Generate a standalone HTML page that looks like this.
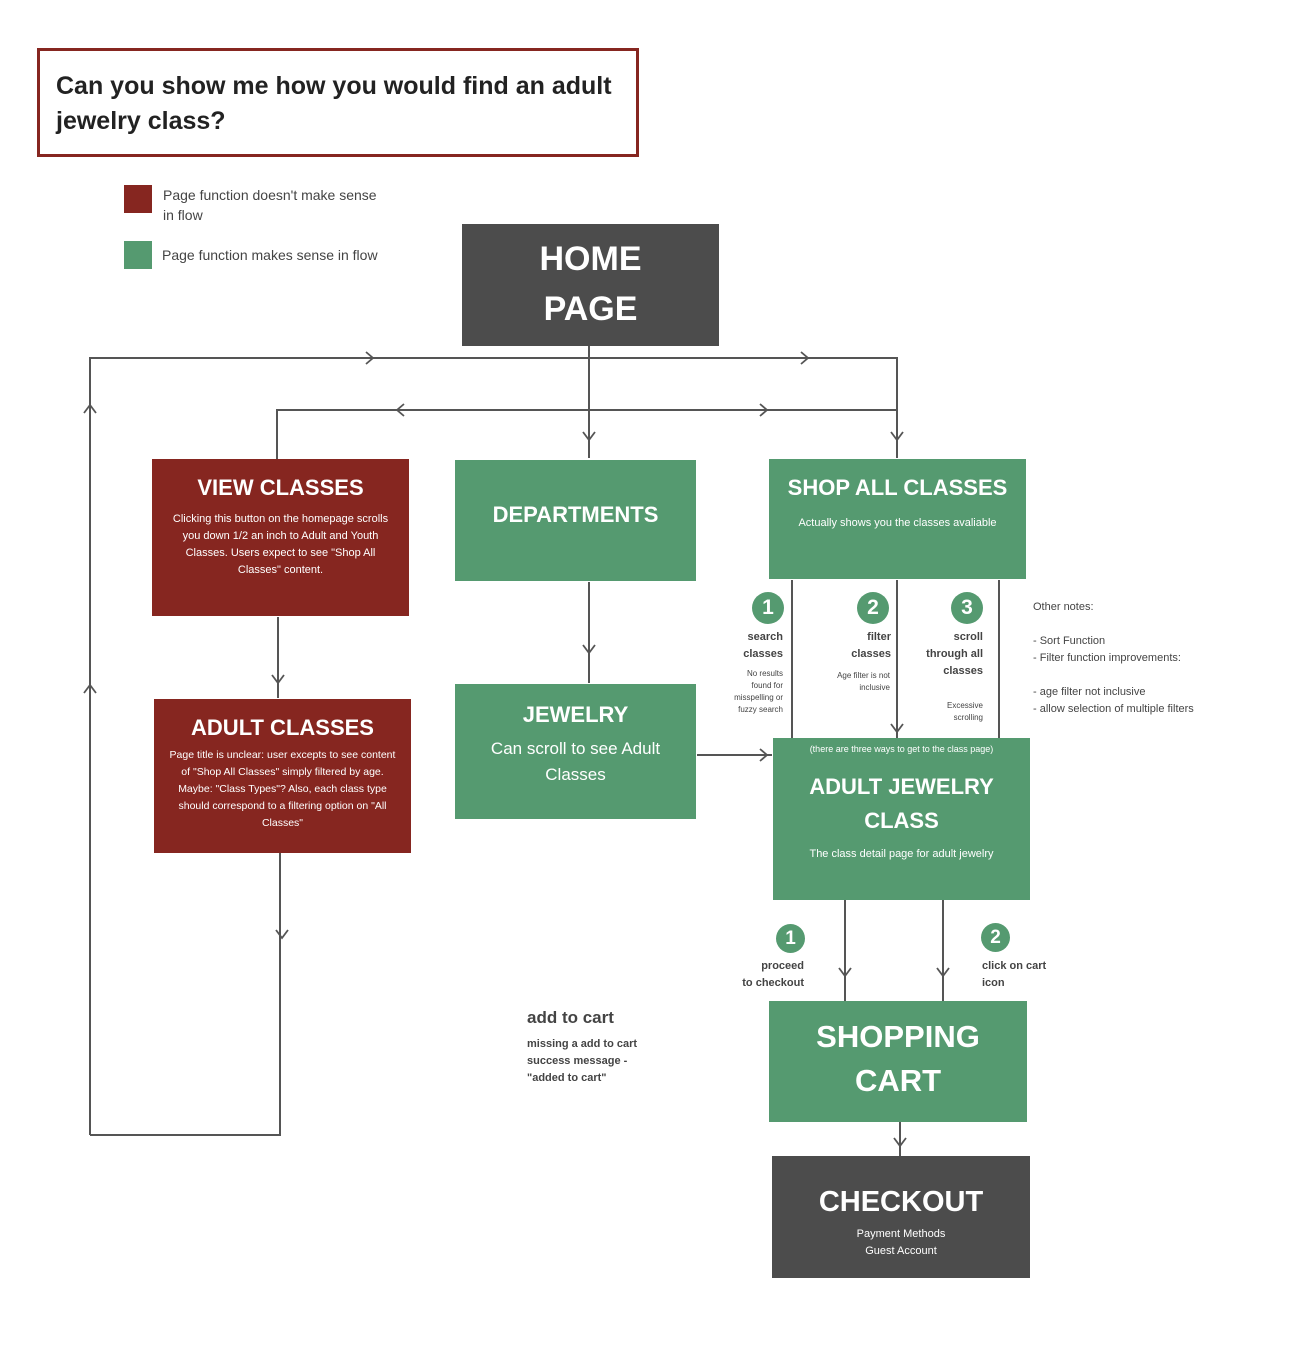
<!DOCTYPE html>
<html><head><meta charset="utf-8"><style>
html,body{margin:0;padding:0;background:#fff;}
body{width:1296px;height:1368px;position:relative;overflow:hidden;font-family:"Liberation Sans",sans-serif;}
.b{position:absolute;color:#fff;text-align:center;box-sizing:border-box;}
.r{background:#862620;}
.g{background:#559a70;}
.d{background:#4c4c4c;}
.t{font-weight:bold;}
.s{font-size:11px;line-height:17px;}
.a{position:absolute;color:#444;font-size:11px;line-height:17px;}
.n{position:absolute;width:32px;height:32px;border-radius:50%;background:#559a70;color:#fff;font-weight:bold;font-size:21px;line-height:32px;text-align:center;}
</style></head><body>
<svg width="1296" height="1368" style="position:absolute;left:0;top:0">
<g stroke="#555" stroke-width="2" fill="none">
<path d="M589 346V458"/>
<path d="M90 1135V358H897V458"/>
<path d="M277 459V410H897"/>
<path d="M280 853V1135H90"/>
<path d="M278 617V698"/>
<path d="M589 582V683"/>
<path d="M697 755H772"/>
<path d="M792 580V738M897 580V738M999 580V738"/>
<path d="M845 900V1001M943 900V1001"/>
<path d="M900 1122V1156"/>
<g stroke-width="1.8">
<path d="M583 432l6 8 6-8"/><path d="M891 432l6 8 6-8"/>
<path d="M366 352l7 6-7 6"/><path d="M801 352l7 6-7 6"/>
<path d="M404 404l-7 6 7 6"/><path d="M760 404l7 6-7 6"/>
<path d="M84 413l6-8 6 8"/><path d="M84 693l6-8 6 8"/>
<path d="M276 930l6 8 6-8"/><path d="M272 675l6 8 6-8"/>
<path d="M583 645l6 8 6-8"/><path d="M760 749l7 6-7 6"/>
<path d="M891 724l6 8 6-8"/>
<path d="M839 968l6 8 6-8"/><path d="M937 968l6 8 6-8"/>
<path d="M894 1138l6 8 6-8"/>
</g></g></svg>

<div style="position:absolute;left:37px;top:48px;width:602px;height:109px;border:3px solid #862620;box-sizing:border-box;padding:18px 0 0 16px;font-weight:bold;font-size:25px;line-height:35px;color:#222;">Can you show me how you would find an adult jewelry class?</div>

<div style="position:absolute;left:124px;top:185px;width:28px;height:28px;background:#862620"></div>
<div class="a" style="left:163px;top:185px;font-size:14px;line-height:20px">Page function doesn't make sense<br>in flow</div>
<div style="position:absolute;left:124px;top:241px;width:28px;height:28px;background:#559a70"></div>
<div class="a" style="left:162px;top:245px;font-size:14px;line-height:20px">Page function makes sense in flow</div>

<div class="b d t" style="left:462px;top:224px;width:257px;height:122px;font-size:34px;line-height:50px;padding-top:10px">HOME<br>PAGE</div>

<div class="b r" style="left:152px;top:459px;width:257px;height:157px;padding:14px 14px 0"><div class="t" style="font-size:22px;line-height:30px;margin-bottom:8px">VIEW CLASSES</div><div class="s">Clicking this button on the homepage scrolls you down 1/2 an inch to Adult and Youth Classes. Users expect to see "Shop All Classes" content.</div></div>

<div class="b g t" style="left:455px;top:460px;width:241px;height:121px;font-size:22px;padding-top:42px">DEPARTMENTS</div>

<div class="b g" style="left:769px;top:459px;width:257px;height:120px;padding:14px 10px 0"><div class="t" style="font-size:22px;line-height:30px;margin-bottom:12px">SHOP ALL CLASSES</div><div class="s">Actually shows you the classes avaliable</div></div>

<div class="b r" style="left:154px;top:699px;width:257px;height:154px;padding:14px 10px 0"><div class="t" style="font-size:22px;line-height:30px;margin-bottom:4px">ADULT CLASSES</div><div class="s" style="font-size:10.5px">Page title is unclear: user excepts to see content of "Shop All Classes" simply filtered by age. Maybe: "Class Types"? Also, each class type should correspond to a filtering option on "All Classes"</div></div>

<div class="b g" style="left:455px;top:684px;width:241px;height:135px;padding:16px 10px 0"><div class="t" style="font-size:22px;line-height:30px;margin-bottom:6px">JEWELRY</div><div style="font-size:17px;line-height:26px">Can scroll to see Adult Classes</div></div>

<div class="b g" style="left:773px;top:738px;width:257px;height:162px;padding:4px 10px 0"><div style="font-size:9px;line-height:14px">(there are three ways to get to the class page)</div><div class="t" style="font-size:22px;line-height:34px;margin:14px 0 8px">ADULT JEWELRY<br>CLASS</div><div class="s">The class detail page for adult jewelry</div></div>

<div class="b g t" style="left:769px;top:1001px;width:258px;height:121px;font-size:31px;line-height:44px;padding-top:14px">SHOPPING<br>CART</div>

<div class="b d" style="left:772px;top:1156px;width:258px;height:122px;padding-top:28px"><div class="t" style="font-size:29px;line-height:36px;margin-bottom:6px">CHECKOUT</div><div class="s">Payment Methods<br>Guest Account</div></div>

<div class="n" style="left:752px;top:592px">1</div>
<div class="n" style="left:857px;top:592px">2</div>
<div class="n" style="left:951px;top:592px">3</div>
<div class="a" style="left:700px;top:629px;width:83px;text-align:right;font-weight:bold;">search<br>classes</div>
<div class="a" style="left:700px;top:668px;width:83px;text-align:right;font-size:8px;line-height:12px">No results<br>found for<br>misspelling or<br>fuzzy search</div>
<div class="a" style="left:800px;top:629px;width:91px;text-align:right;font-weight:bold;">filter<br>classes</div>
<div class="a" style="left:800px;top:670px;width:90px;text-align:right;font-size:8px;line-height:12px">Age filter is not<br>inclusive</div>
<div class="a" style="left:905px;top:629px;width:78px;text-align:right;font-weight:bold;">scroll<br>through all<br>classes</div>
<div class="a" style="left:905px;top:700px;width:78px;text-align:right;font-size:8px;line-height:12px">Excessive<br>scrolling</div>
<div class="a" style="left:1033px;top:599px;font-size:11px;line-height:17px">Other notes:<br><br>- Sort Function<br>- Filter function improvements:<br><br>- age filter not inclusive<br>- allow selection of multiple filters</div>

<div class="n" style="left:776px;top:924px;width:29px;height:29px;line-height:29px;font-size:19px">1</div>
<div class="n" style="left:981px;top:923px;width:29px;height:29px;line-height:29px;font-size:19px">2</div>
<div class="a" style="left:720px;top:958px;width:84px;text-align:right;font-weight:bold">proceed<br>to checkout</div>
<div class="a" style="left:982px;top:958px;font-weight:bold">click on cart<br>icon</div>

<div class="a" style="left:527px;top:1006px;font-size:17px;line-height:24px;font-weight:bold">add to cart</div>
<div class="a" style="left:527px;top:1036px;font-weight:bold">missing a add to cart<br>success message -<br>"added to cart"</div>
</body></html>
